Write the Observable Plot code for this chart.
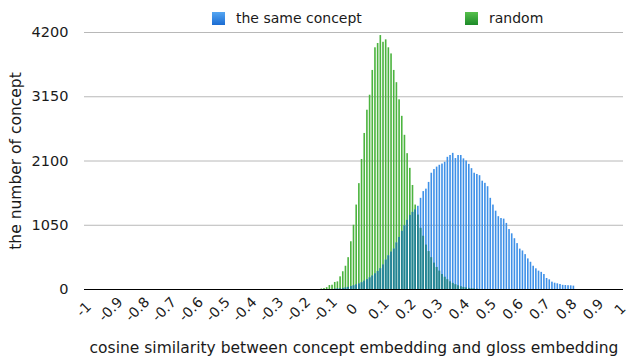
<!DOCTYPE html>
<html>
<head>
<meta charset="utf-8">
<script src="https://cdn.jsdelivr.net/npm/d3@7"></script>
<script src="https://cdn.jsdelivr.net/npm/@observablehq/plot@0.6"></script>
<style>
  html, body { margin: 0; padding: 0; background: #fff; }
  #wrap { position: relative; width: 628px; height: 358px; font-family: "DejaVu Sans", sans-serif; color: #1a1a1a; }
  #legend { position: relative; height: 24px; font-size: 14px; z-index: 2; }
  .item { position: absolute; top: 10px; display: flex; align-items: center; line-height: 17px; }
  .sw { width: 13px; height: 13px; margin-right: 11px; }
  #chart svg { display: block; }
</style>
</head>
<body>
<div id="wrap">
  <div id="legend">
    <div class="item" style="left:212px"><span class="sw" style="background:linear-gradient(#55a6f2,#1b6cd2)"></span><span id="lab0"></span></div>
    <div class="item" style="left:465px"><span class="sw" style="background:linear-gradient(#57c04c,#1c8a28)"></span><span id="lab1"></span></div>
  </div>
  <div id="chart"></div>
</div>
<script>
// Series names
const seriesNames = ["the same concept", "random"];

// Bin keys are cosine similarity in hundredths (-100 .. 100), one bin per 0.01
const binKeys = d3.range(-100, 101);

// "the same concept" (blue) counts, first bin at -0.07
const sameStart = -7;
const sameValues = [
  5, 8, 12, 18, 25, 35, 48, 60, 75, 90,
  110, 135, 160, 190, 220, 255, 295, 340, 400, 480,
  550, 610, 660, 760, 850, 950, 1040, 1130, 1210, 1260,
  1300, 1360, 1490, 1600, 1640, 1750, 1900, 1960, 2000, 2030,
  2050, 2080, 2160, 2190, 2225, 2140, 2190, 2190, 2135, 2100,
  2045, 1975, 1900, 1880, 1860, 1770, 1735, 1680, 1490, 1380,
  1280, 1190, 1160, 1150, 1080, 980, 910, 830, 750, 660,
  630, 570, 500, 445, 380, 338, 300, 280, 245, 180,
  158, 120, 103, 93, 82, 68, 65, 62, 60, 55
];

// "random" (green) counts, first bin at -0.12
const randomStart = -12;
const randomValues = [
  8, 15, 30, 65, 70, 115, 125, 207, 290, 380,
  520, 780, 1050, 1380, 1730, 2125, 2550, 2930, 3175, 3580,
  3950, 4020, 4150, 4040, 4080, 3950, 3850, 3580, 3380, 3100,
  2830, 2520, 2220, 1980, 1700, 1380, 1215, 1000, 870, 725,
  620, 520, 430, 360, 300, 245, 200, 160, 125, 100,
  78, 60, 45, 34, 25, 18, 12, 8, 5
];

// Axis ticks
const yTicks = [0, 1050, 2100, 3150, 4200];
const xTickKeys = [-100, -90, -80, -70, -60, -50, -40, -30, -20, -10, 0, 10, 20, 30, 40, 50, 60, 70, 80, 90, 100];
const xTickLabels = ["-1", "-0.9", "-0.8", "-0.7", "-0.6", "-0.5", "-0.4", "-0.3", "-0.2", "-0.1", "0", "0.1", "0.2", "0.3", "0.4", "0.5", "0.6", "0.7", "0.8", "0.9", "1"];

const xTitle = "cosine similarity between concept embedding and gloss embedding";
const yTitle = "the number of concept";

document.getElementById("lab0").textContent = seriesNames[0];
document.getElementById("lab1").textContent = seriesNames[1];

const sameData = sameValues.map((v, k) => ({bin: sameStart + k, value: v}));
const randomData = randomValues.map((v, k) => ({bin: randomStart + k, value: v}));
const randomByBin = new Map(randomData.map(d => [d.bin, d.value]));
// where both series overlap, the shared part is shown in a blended teal
const overlapData = sameData
  .filter(d => randomByBin.has(d.bin))
  .map(d => ({bin: d.bin, value: Math.min(d.value, randomByBin.get(d.bin))}));
const tickData = xTickKeys.map((k, i) => ({bin: k, label: xTickLabels[i]}));

const chart = Plot.plot({
  width: 628,
  height: 334,
  marginTop: 8,
  marginLeft: 84,
  marginRight: 5,
  marginBottom: 69,
  style: {fontFamily: "DejaVu Sans, sans-serif", fontSize: "14px", color: "#1a1a1a", background: "#fff"},
  x: {type: "band", domain: binKeys, paddingInner: 0.4, paddingOuter: 0.2, axis: null},
  y: {domain: [0, 4200], axis: null},
  marks: [
    Plot.gridY(yTicks, {stroke: "#b8b8b8", strokeOpacity: 1, strokeWidth: 1}),
    Plot.barY(randomData, {x: "bin", y: "value", fill: "#4cb43f"}),
    Plot.barY(sameData, {x: "bin", y: "value", fill: "#3f91e8"}),
    Plot.barY(overlapData, {x: "bin", y: "value", fill: "#23838e"}),
    Plot.ruleY([0], {stroke: "#000", strokeWidth: 1.2}),
    Plot.axisY(yTicks, {tickSize: 0, tickPadding: 16, fontSize: 14.5, label: null, fill: "#1a1a1a", tickFormat: d => `${d}`}),
    Plot.text(tickData, {x: "bin", text: "label", frameAnchor: "bottom", lineAnchor: "middle", dx: -2, dy: 20, rotate: -45, textAnchor: "middle", fontSize: 14, fill: "#1a1a1a"}),
    Plot.text([xTitle], {frameAnchor: "bottom", lineAnchor: "middle", dy: 59, fontSize: 15.5, fill: "#1a1a1a"}),
    Plot.text([yTitle], {frameAnchor: "left", textAnchor: "middle", lineAnchor: "middle", dx: -68, rotate: -90, fontSize: 15.5, fill: "#1a1a1a"})
  ]
});
document.getElementById("chart").appendChild(chart);
</script>
</body>
</html>
